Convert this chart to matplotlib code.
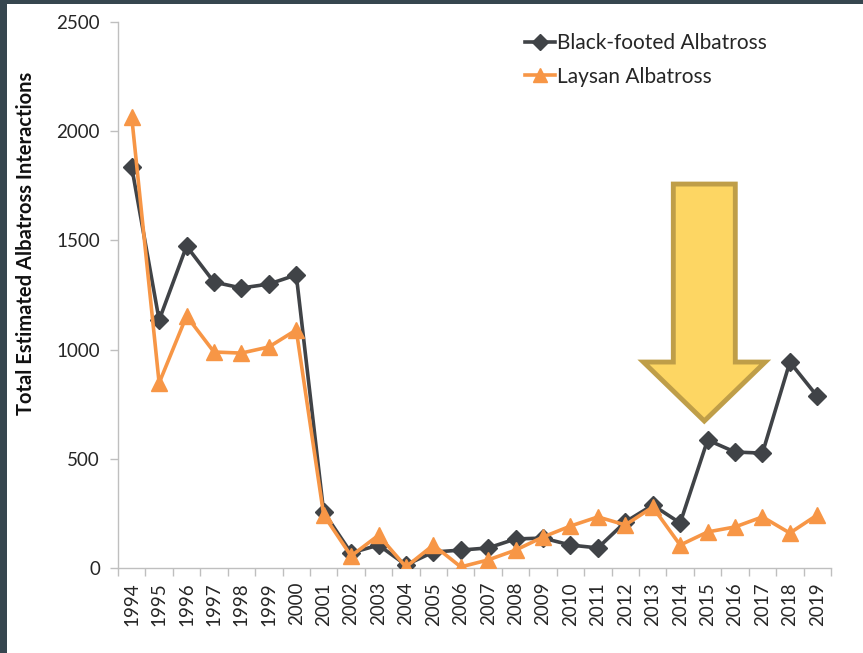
import matplotlib
matplotlib.use("Agg")
import matplotlib.pyplot as plt
from matplotlib.patches import Polygon, Rectangle
import numpy as np

years = list(range(1994, 2020))
black_footed = [1836, 1135, 1474, 1309, 1282, 1300, 1342, 256, 69, 105, 14, 73,
                82, 92, 133, 137, 105, 92, 211, 288, 206, 586, 531, 526, 943, 786]
laysan = [2065, 847, 1154, 989, 984, 1012, 1090, 243, 55, 150, 5, 105,
          5, 37, 82, 142, 192, 234, 197, 279, 105, 165, 188, 234, 160, 243]
y_ticks = [0, 500, 1000, 1500, 2000, 2500]
series_names = ["Black-footed Albatross", "Laysan Albatross"]
y_label = "Total Estimated Albatross Interactions"

plt.rcParams['font.family'] = ['Lato', 'DejaVu Sans']

W, H = 863, 653
fig = plt.figure(figsize=(W / 100, H / 100), dpi=100)
fig.patch.set_facecolor("white")

ax = fig.add_axes([118 / W, 1 - 568 / H, (831 - 118) / W, (568 - 22) / H])

c_black = "#404347"
c_orange = "#F79646"
ax.plot(years, black_footed, color=c_black, lw=2.6, marker="D", ms=9.5,
        label=series_names[0], zorder=3)
ax.plot(years, laysan, color=c_orange, lw=2.6, marker="^", ms=11.5,
        label=series_names[1], zorder=4)

ax.set_xlim(1993.5, 2019.5)
ax.set_ylim(0, 2500)
ax.set_yticks(y_ticks)
ax.set_xticks(years)
ax.set_xticklabels([str(y) for y in years], rotation=90, fontsize=13.5, color="#262626")
ax.set_xticks(np.arange(1993.5, 2020, 1), minor=True)
ax.tick_params(axis="x", which="major", length=0, pad=10)
ax.tick_params(axis="x", which="minor", length=6, color="#BFBFBF", width=1)
ax.tick_params(axis="y", length=6, color="#BFBFBF", width=1, labelsize=13.5,
               labelcolor="#262626", pad=7)
for s in ["top", "right"]:
    ax.spines[s].set_visible(False)
for s in ["left", "bottom"]:
    ax.spines[s].set_color("#BFBFBF")
    ax.spines[s].set_linewidth(1)

ax.set_ylabel(y_label, fontsize=14.5, fontweight="bold", color="#111111")
ax.yaxis.set_label_coords((36 - 118) / 713, (568 - 243) / 546)

leg = ax.legend(loc="center left", bbox_to_anchor=(525 / W, 1 - 60 / H),
                bbox_transform=fig.transFigure, frameon=False, fontsize=15,
                handlelength=1.45, handletextpad=0.1, labelspacing=0.65,
                markerscale=0.85, borderaxespad=0, borderpad=0)
for t in leg.get_texts():
    t.set_color("#262626")

# Annotation arrow (in data coords)
arrow_x = [2013.75, 2016.01, 2016.01, 2017.10, 2014.88, 2012.66, 2013.75]
arrow_y = [1758, 1758, 943, 943, 673, 943, 943]
poly = Polygon(np.column_stack([arrow_x, arrow_y]), closed=True,
               facecolor="#FDD663", edgecolor="#BF9E48", lw=3.5, joinstyle="miter",
               zorder=5, clip_on=False)
ax.add_patch(poly)

# Dark border of the slide
fig.patches.append(Rectangle((0, 0), 7 / W, 1, transform=fig.transFigure,
                             facecolor="#36464f", edgecolor="none"))
fig.patches.append(Rectangle((0, 1 - 4 / H), 1, 4 / H, transform=fig.transFigure,
                             facecolor="#36464f", edgecolor="none"))

fig.savefig("out.png", dpi=100)
